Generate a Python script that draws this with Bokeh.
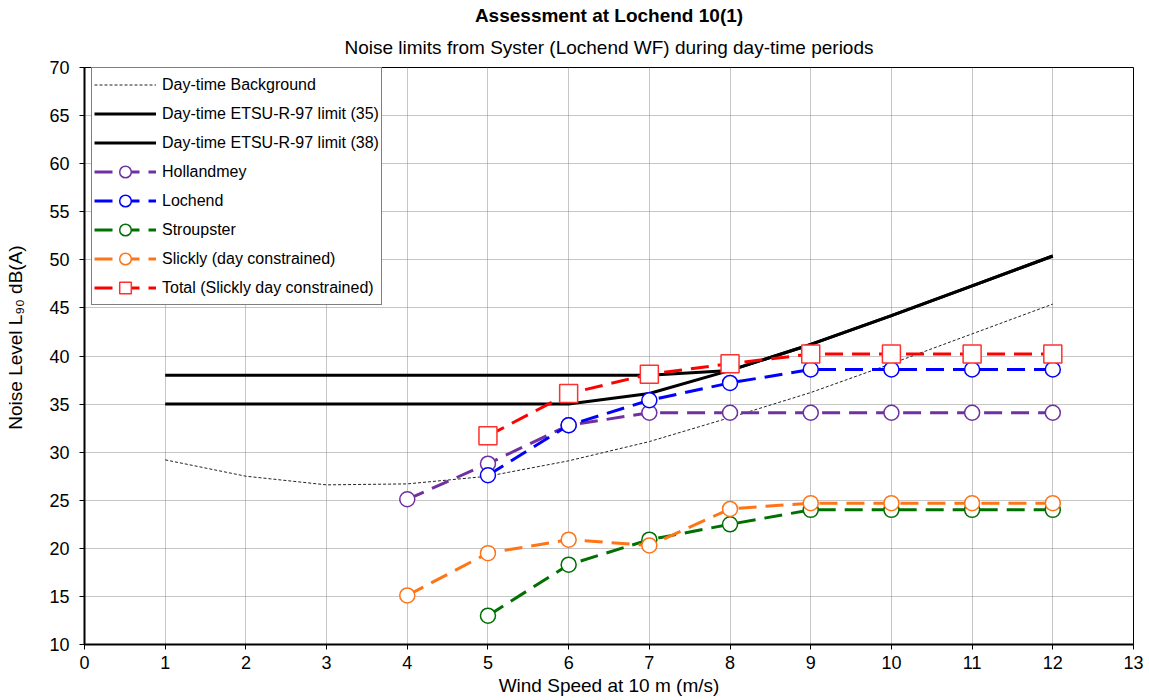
from bokeh.plotting import figure
from bokeh.models import Title, Legend, LegendItem, FixedTicker, Range1d
from bokeh.embed import file_html
from bokeh.resources import INLINE

# ---- data ----
wind = [1, 2, 3, 4, 5, 6, 7, 8, 9, 10, 11, 12]
background = [29.2, 27.5, 26.6, 26.7, 27.5, 29.1, 31.1, 33.6, 36.2, 39.2, 42.3, 45.4]
limit35 = [35, 35, 35, 35, 35, 35, 36.1, 38.5, 41.2, 44.2, 47.3, 50.4]
limit38 = [38, 38, 38, 38, 38, 38, 38, 38.5, 41.2, 44.2, 47.3, 50.4]

wind_from4 = [4, 5, 6, 7, 8, 9, 10, 11, 12]
wind_from5 = [5, 6, 7, 8, 9, 10, 11, 12]
hollandmey = [25.1, 28.8, 32.8, 34.1, 34.1, 34.1, 34.1, 34.1, 34.1]
lochend = [27.6, 32.8, 35.4, 37.2, 38.6, 38.6, 38.6, 38.6]
stroupster = [13.0, 18.3, 20.9, 22.5, 24.0, 24.0, 24.0, 24.0]
slickly = [15.1, 19.5, 20.9, 20.3, 24.1, 24.7, 24.7, 24.7, 24.7]
total = [31.7, 36.1, 38.1, 39.2, 40.2, 40.2, 40.2, 40.2]

x_ticks = list(range(0, 14))
y_ticks = list(range(10, 71, 5))

FONT = "Liberation Sans"

p = figure(width=1149, height=700, output_backend="svg", toolbar_location=None,
           x_range=Range1d(0, 13), y_range=Range1d(10, 70),
           min_border_left=84, min_border_right=16, min_border_top=67, min_border_bottom=56)

p.title.text = ""
p.add_layout(Title(text="Noise limits from Syster (Lochend WF) during day-time periods",
                   align="center", text_font=FONT, text_font_size="19px",
                   text_font_style="normal", text_color="black", standoff=19,
                   text_line_height=0.8), "above")
p.add_layout(Title(text="Assessment at Lochend 10(1)", align="center", text_font=FONT,
                   text_font_size="19px", text_font_style="bold", text_color="black",
                   standoff=0), "above")

p.outline_line_color = "black"
p.outline_line_width = 1
p.background_fill_color = "white"
p.border_fill_color = "white"

for ax in (p.xaxis[0], p.yaxis[0]):
    ax.axis_line_width = 2
    ax.axis_line_color = "black"
    ax.major_tick_out = 5
    ax.major_tick_in = 0
    ax.minor_tick_out = 0
    ax.minor_tick_in = 0
    ax.major_tick_line_color = "black"
    ax.major_label_text_font = FONT
    ax.major_label_text_font_size = "18px"
    ax.major_label_text_color = "black"
    ax.axis_label_text_font = FONT
    ax.axis_label_text_font_size = "19px"
    ax.axis_label_text_font_style = "normal"
    ax.axis_label_text_color = "black"

p.xaxis.ticker = FixedTicker(ticks=x_ticks)
p.yaxis.ticker = FixedTicker(ticks=y_ticks)
p.xaxis.axis_label = "Wind Speed at 10 m (m/s)"
p.xaxis.axis_label_standoff = 3
p.xaxis.major_label_standoff = 6
p.yaxis.axis_label = "\u00a0" * 7 + "Noise Level L\u2089\u2080 dB(A)"
p.yaxis.axis_label_standoff = 20
p.yaxis.major_label_standoff = 10

for g in (p.xgrid[0], p.ygrid[0]):
    g.grid_line_color = "#8c8c8c"
    g.grid_line_dash = "1 1"
    g.grid_line_width = 1

DASH = "18 9"

r_bg = p.line(wind, background, line_color="#222222", line_width=1, line_dash="3 2")
r_l35 = p.line(wind, limit35, line_color="black", line_width=3)
r_l38 = p.line(wind, limit38, line_color="black", line_width=3)

items = [
    LegendItem(label="Day-time Background", renderers=[r_bg]),
    LegendItem(label="Day-time ETSU-R-97 limit (35)", renderers=[r_l35]),
    LegendItem(label="Day-time ETSU-R-97 limit (38)", renderers=[r_l38]),
]

series = [
    ("Hollandmey", wind_from4, hollandmey, "#7030A0", "circle"),
    ("Lochend", wind_from5, lochend, "#0000FF", "circle"),
    ("Stroupster", wind_from5, stroupster, "#007000", "circle"),
    ("Slickly (day constrained)", wind_from4, slickly, "#FF7417", "circle"),
    ("Total (Slickly day constrained)", wind_from5, total, "#FF0000", "square"),
]
for name, xs, ys, col, mk in series:
    rl = p.line(xs, ys, line_color=col, line_width=3, line_dash=DASH)
    if mk == "circle":
        rm = p.scatter(xs, ys, marker="circle", size=15, fill_color="white",
                       line_color=col, line_width=1.5)
    else:
        rm = p.scatter(xs, ys, marker="square", size=18, fill_color="white",
                       line_color="#FF3030", line_width=1.5)
    items.append(LegendItem(label=name, renderers=[rl, rm]))

legend = Legend(items=items, location=(7, 339),
                label_text_font=FONT, label_text_font_size="16px",
                label_text_color="black",
                glyph_width=62, glyph_height=29, label_height=29,
                spacing=0, padding=2, margin=0, label_standoff=6,
                border_line_color="black", border_line_width=1,
                background_fill_color="white", background_fill_alpha=1)
p.add_layout(legend)

open("out.html", "w").write(file_html(p, INLINE))
